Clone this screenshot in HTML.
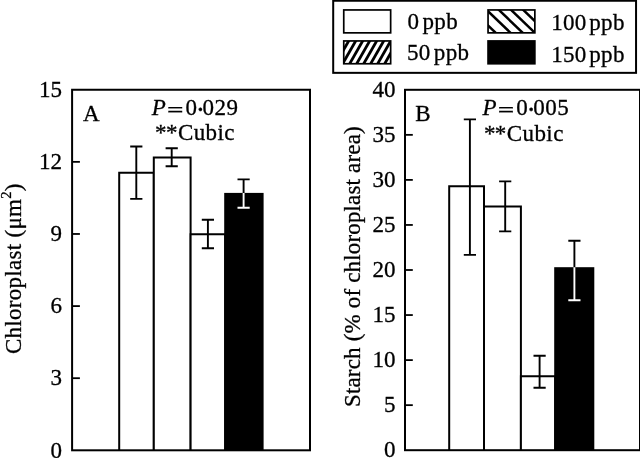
<!DOCTYPE html>
<html lang="en"><head><meta charset="utf-8"><title>Chloroplast and starch chart</title>
<style>html,body{margin:0;padding:0;background:#fff;}svg{display:block;}text{font-family:"Liberation Serif",serif;font-size:23px;fill:#000;stroke:#000;stroke-width:0.3px;}</style></head><body>
<svg width="640" height="458" viewBox="0 0 640 458">
<defs>
<clipPath id="c1"><rect x="343.7" y="40.9" width="47" height="22.9"/></clipPath>
<clipPath id="c2"><rect x="488" y="9.9" width="46.9" height="23"/></clipPath>
</defs>
<rect width="640" height="458" fill="#fff"/>
<rect x="333.2" y="0.75" width="302.85" height="72.10" fill="none" stroke="#000" stroke-width="2"/>
<rect x="343.75" y="9.95" width="46.90" height="22.90" fill="#fff" stroke="#000" stroke-width="1.7"/>
<g clip-path="url(#c1)" stroke="#000" stroke-width="2.8">
<line x1="351.53" y1="36" x2="333.24" y2="68"/>
<line x1="358.53" y1="36" x2="340.24" y2="68"/>
<line x1="365.53" y1="36" x2="347.24" y2="68"/>
<line x1="372.53" y1="36" x2="354.24" y2="68"/>
<line x1="379.53" y1="36" x2="361.24" y2="68"/>
<line x1="386.53" y1="36" x2="368.24" y2="68"/>
<line x1="393.53" y1="36" x2="375.24" y2="68"/>
<line x1="400.53" y1="36" x2="382.24" y2="68"/>
</g>
<rect x="343.75" y="40.95" width="46.90" height="22.80" fill="none" stroke="#000" stroke-width="1.7"/>
<g clip-path="url(#c2)" stroke="#000" stroke-width="2.5">
<line x1="466.26" y1="4.5" x2="503.70" y2="40.5"/>
<line x1="481.06" y1="4.5" x2="518.50" y2="40.5"/>
<line x1="493.26" y1="4.5" x2="530.70" y2="40.5"/>
<line x1="505.46" y1="4.5" x2="542.90" y2="40.5"/>
<line x1="517.66" y1="4.5" x2="555.10" y2="40.5"/>
</g>
<rect x="488.05" y="9.95" width="46.80" height="22.90" fill="none" stroke="#000" stroke-width="1.7"/>
<rect x="487.2" y="40.1" width="48.5" height="24.5" fill="#000"/>
<text y="29"><tspan x="407.5" letter-spacing="0.3">0</tspan> <tspan x="422.4" letter-spacing="0.4">ppb</tspan></text>
<text y="59.8"><tspan x="406.9" letter-spacing="0.3">50</tspan> <tspan x="433.8" letter-spacing="0.4">ppb</tspan></text>
<text y="30"><tspan x="551.2" letter-spacing="0.3">100</tspan> <tspan x="589.2" letter-spacing="0.4">ppb</tspan></text>
<text y="61.5"><tspan x="551.2" letter-spacing="0.3">150</tspan> <tspan x="589.2" letter-spacing="0.4">ppb</tspan></text>
<path d="M119.20 450.3V172.80H153.80V450.3" fill="#fff" stroke="#000" stroke-width="2"/>
<path d="M153.80 450.3V157.60H190.60V450.3" fill="#fff" stroke="#000" stroke-width="2"/>
<path d="M190.60 450.3V234.20H225.20V450.3" fill="#fff" stroke="#000" stroke-width="2"/>
<rect x="224.20" y="192.90" width="39.40" height="257.40" fill="#000"/>
<path d="M130.20 146.50H142.40M130.20 198.90H142.40M136.30 146.50V198.90" fill="none" stroke="#000" stroke-width="1.9"/>
<path d="M165.60 148.30H177.80M165.60 166.30H177.80M171.70 148.30V166.30" fill="none" stroke="#000" stroke-width="1.9"/>
<path d="M201.80 219.80H214.00M201.80 248.20H214.00M207.90 219.80V248.20" fill="none" stroke="#000" stroke-width="1.9"/>
<path d="M237.50 179.40H249.70M243.60 179.40V193.00" fill="none" stroke="#000" stroke-width="1.9"/>
<path d="M237.50 207.80H249.70M243.60 207.80V193.00" fill="none" stroke="#fff" stroke-width="1.9"/>
<rect x="72.1" y="89.75" width="237.9" height="360.55" fill="none" stroke="#000" stroke-width="2"/>
<text x="61.9" y="457.50" text-anchor="end">0</text>
<line x1="72.1" y1="378.19" x2="79.90" y2="378.19" stroke="#000" stroke-width="1.8"/>
<text x="61.9" y="385.39" text-anchor="end">3</text>
<line x1="72.1" y1="306.08" x2="79.90" y2="306.08" stroke="#000" stroke-width="1.8"/>
<text x="61.9" y="313.28" text-anchor="end">6</text>
<line x1="72.1" y1="233.97" x2="79.90" y2="233.97" stroke="#000" stroke-width="1.8"/>
<text x="61.9" y="241.17" text-anchor="end">9</text>
<line x1="72.1" y1="161.86" x2="79.90" y2="161.86" stroke="#000" stroke-width="1.8"/>
<text x="61.9" y="169.06" text-anchor="end">12</text>
<text x="61.9" y="96.95" text-anchor="end">15</text>
<text x="83" y="120.8">A</text>
<path d="M449.20 450.2V186.20H484.00V450.2" fill="#fff" stroke="#000" stroke-width="2"/>
<path d="M484.00 450.2V206.40H520.90V450.2" fill="#fff" stroke="#000" stroke-width="2"/>
<path d="M520.90 450.2V376.30H555.20V450.2" fill="#fff" stroke="#000" stroke-width="2"/>
<rect x="554.20" y="267.20" width="40.10" height="183.00" fill="#000"/>
<path d="M463.80 119.40H476.00M463.80 254.90H476.00M469.90 119.40V254.90" fill="none" stroke="#000" stroke-width="1.9"/>
<path d="M499.10 181.40H511.30M499.10 231.40H511.30M505.20 181.40V231.40" fill="none" stroke="#000" stroke-width="1.9"/>
<path d="M533.50 355.70H545.70M533.50 387.70H545.70M539.60 355.70V387.70" fill="none" stroke="#000" stroke-width="1.9"/>
<path d="M568.30 240.80H580.50M574.40 240.80V267.20" fill="none" stroke="#000" stroke-width="1.9"/>
<path d="M568.30 300.30H580.50M574.40 300.30V267.20" fill="none" stroke="#fff" stroke-width="1.9"/>
<rect x="405.0" y="89.8" width="235.0" height="360.4" fill="none" stroke="#000" stroke-width="2"/>
<text x="395.6" y="457.40" text-anchor="end">0</text>
<line x1="405.0" y1="405.15" x2="412.80" y2="405.15" stroke="#000" stroke-width="1.8"/>
<text x="395.6" y="412.35" text-anchor="end">5</text>
<line x1="405.0" y1="360.10" x2="412.80" y2="360.10" stroke="#000" stroke-width="1.8"/>
<text x="395.6" y="367.30" text-anchor="end">10</text>
<line x1="405.0" y1="315.05" x2="412.80" y2="315.05" stroke="#000" stroke-width="1.8"/>
<text x="395.6" y="322.25" text-anchor="end">15</text>
<line x1="405.0" y1="270.00" x2="412.80" y2="270.00" stroke="#000" stroke-width="1.8"/>
<text x="395.6" y="277.20" text-anchor="end">20</text>
<line x1="405.0" y1="224.95" x2="412.80" y2="224.95" stroke="#000" stroke-width="1.8"/>
<text x="395.6" y="232.15" text-anchor="end">25</text>
<line x1="405.0" y1="179.90" x2="412.80" y2="179.90" stroke="#000" stroke-width="1.8"/>
<text x="395.6" y="187.10" text-anchor="end">30</text>
<line x1="405.0" y1="134.85" x2="412.80" y2="134.85" stroke="#000" stroke-width="1.8"/>
<text x="395.6" y="142.05" text-anchor="end">35</text>
<text x="395.6" y="97.00" text-anchor="end">40</text>
<text x="415.3" y="120.8">B</text>
<text y="115.2"><tspan x="151.79999999999998" font-style="italic">P</tspan><tspan x="185.5">0</tspan><tspan x="195.7" font-size="28px" dy="3.9">·</tspan><tspan x="202.6" dy="-3.9" letter-spacing="0.5">029</tspan></text>
<text transform="translate(175.30,115.8) scale(1.27,0.8)" text-anchor="middle" font-weight="bold" stroke="none">=</text>
<text y="115.2"><tspan x="482.5" font-style="italic">P</tspan><tspan x="516.1999999999999">0</tspan><tspan x="526.4" font-size="28px" dy="3.9">·</tspan><tspan x="533.3" dy="-3.9" letter-spacing="0.5">005</tspan></text>
<text transform="translate(506.00,115.8) scale(1.27,0.8)" text-anchor="middle" font-weight="bold" stroke="none">=</text>
<text y="140.3"><tspan x="155.0" letter-spacing="-0.6">**</tspan><tspan x="177.9" letter-spacing="0.4">Cubic</tspan></text>
<text y="140.7"><tspan x="483.9" letter-spacing="-0.6">**</tspan><tspan x="506.8" letter-spacing="0.4">Cubic</tspan></text>
<text transform="translate(21.3,354) rotate(-90)" textLength="170.5" lengthAdjust="spacing">Chloroplast (μm<tspan font-size="14.5px" dy="-10">2</tspan><tspan dy="10">)</tspan></text>
<text transform="translate(359.9,407) rotate(-90)" textLength="280.7" lengthAdjust="spacing">Starch (% of chloroplast area)</text>
</svg></body></html>
